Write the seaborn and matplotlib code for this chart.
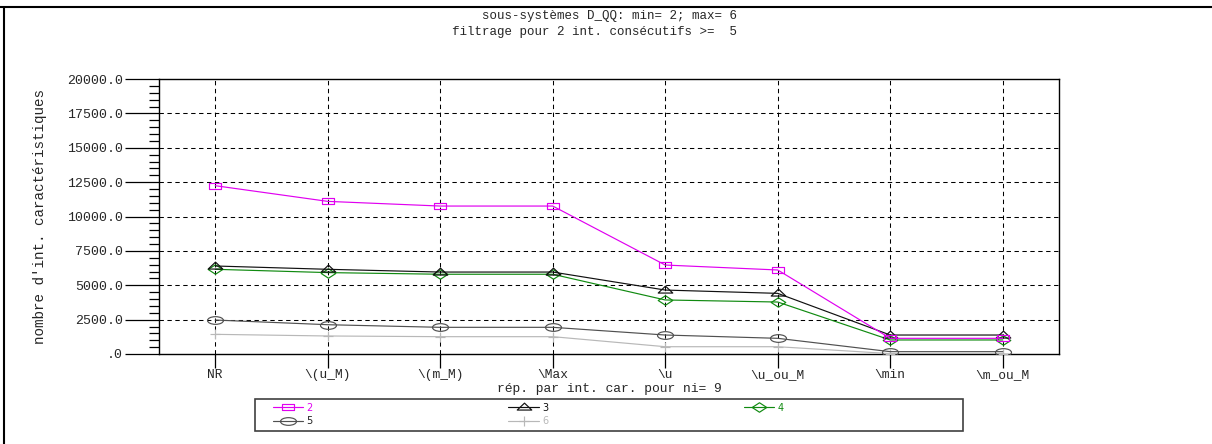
import numpy as np
import pandas as pd
import matplotlib
matplotlib.use("Agg")
import matplotlib.pyplot as plt
from matplotlib.path import Path
from matplotlib.lines import Line2D
from matplotlib.patches import Rectangle
from matplotlib.ticker import FixedLocator, MultipleLocator
import seaborn as sns

# ---------------- data ----------------
categories = ["NR", "\\(u_M)", "\\(m_M)", "\\Max", "\\u", "\\u_ou_M", "\\min", "\\m_ou_M"]
series_names = ["2", "3", "4", "5", "6"]
s2 = [12240, 11100, 10760, 10760, 6470, 6110, 1140, 1140]
s3 = [6400, 6160, 5960, 5960, 4650, 4410, 1380, 1380]
s4 = [6160, 5920, 5800, 5800, 3930, 3780, 1020, 1020]
s5 = [2470, 2130, 1940, 1940, 1380, 1140, 170, 170]
s6 = [1430, 1310, 1260, 1260, 530, 530, 30, 30]
y_tick_values = [0, 2500, 5000, 7500, 10000, 12500, 15000, 17500, 20000]
y_tick_labels = [".0", "2500.0", "5000.0", "7500.0", "10000.0", "12500.0",
                 "15000.0", "17500.0", "20000.0"]
title_line1 = "sous-systèmes D_QQ: min= 2; max= 6"
title_line2 = "filtrage pour 2 int. consécutifs >=  5"
x_label = "rép. par int. car. pour ni= 9"
y_label = "nombre d'int. caractéristiques"

# ---------------- style ----------------
sns.set_style("white")
plt.rcParams["font.family"] = ["Liberation Mono", "DejaVu Sans Mono"]

W, H = 1212, 444
fig = plt.figure(figsize=(W / 100, H / 100), dpi=100)
fig.patch.set_facecolor("white")
L, R, T, B = 159, 1059, 79, 354
ax = fig.add_axes([L / W, 1 - B / H, (R - L) / W, (B - T) / H])

# custom marker shapes
rect_m = Path([(-1, -0.5), (1, -0.5), (1, 0.5), (-1, 0.5), (-1, -0.5)],
              [Path.MOVETO, Path.LINETO, Path.LINETO, Path.LINETO, Path.CLOSEPOLY])
tri_m = Path([(-1, -0.35), (1, -0.35), (0, 0.6), (-1, -0.35)],
             [Path.MOVETO, Path.LINETO, Path.LINETO, Path.CLOSEPOLY])
dia_m = Path([(-1, 0), (0, 0.65), (1, 0), (0, -0.65), (-1, 0)],
             [Path.MOVETO, Path.LINETO, Path.LINETO, Path.LINETO, Path.CLOSEPOLY])
circ = Path.unit_circle()
ell_m = Path(circ.vertices * np.array([1.0, 0.48]), circ.codes)

series = [
    ("2", s2, "#e000f0", rect_m, 8.6),
    ("3", s3, "#101010", tri_m, 10.5),
    ("4", s4, "#108a10", dia_m, 10.5),
    ("5", s5, "#505050", ell_m, 11.5),
    ("6", s6, "#b8b8b8", "+", 7.0),
]

for name, vals, col, mk, ms in reversed(series):
    df = pd.DataFrame({"cat": categories, "val": vals})
    sns.lineplot(data=df, x="cat", y="val", ax=ax, sort=False, color=col,
                 lw=0.85, marker=mk, ms=ms, mfc="none", mec=col, mew=0.85,
                 label=name, legend=False, zorder=3)

ax.set_xlim(-0.5, len(categories) - 0.5)
ax.set_ylim(0, 20000)

# grid
for y in y_tick_values[1:-1]:
    ax.axhline(y, color="black", lw=0.75, ls=(0, (4.2, 3.4)), zorder=1)
for i in range(len(categories)):
    ax.axvline(i, color="black", lw=0.75, ls=(0, (4.2, 3.4)), zorder=1)

# ticks
ax.yaxis.set_major_locator(FixedLocator(y_tick_values))
ax.set_yticklabels(y_tick_labels)
ax.yaxis.set_minor_locator(MultipleLocator(500))
ax.tick_params(axis="y", which="major", direction="out", length=24.5, width=0.9,
               color="black", pad=1.5, labelsize=9.5, left=True)
ax.tick_params(axis="y", which="minor", direction="out", length=7.2, width=0.9,
               color="black", left=True)
ax.set_xticks(range(len(categories)))
ax.set_xticklabels(categories)
ax.tick_params(axis="x", which="major", direction="out", length=10, width=0.9,
               color="black", pad=0.5, labelsize=9.3, bottom=True)
ax.tick_params(axis="x", which="minor", bottom=False)

for sp in ax.spines.values():
    sp.set_color("black")
    sp.set_linewidth(1.0)
    sp.set_visible(True)

ax.set_xlabel(x_label, fontsize=9.4, labelpad=1.5)
ax.set_ylabel(y_label, fontsize=10.3)
ax.yaxis.set_label_coords(-0.124, 0.5)

# titles
fig.text(609 / W, 1 - 16 / H, title_line1, ha="center", va="center", fontsize=9)
fig.text(595 / W, 1 - 32 / H, title_line2, ha="center", va="center", fontsize=9)

# figure border (top & left)
fig.add_artist(Line2D([0, 1], [1 - 7 / H] * 2, transform=fig.transFigure,
                      color="black", lw=1.5))
fig.add_artist(Line2D([4 / W, 4 / W], [0, 1 - 7 / H], transform=fig.transFigure,
                      color="black", lw=1.5))

# legend
handles, labels = ax.get_legend_handles_labels()
hmap = dict(zip(labels, handles))
order = ["2", "5", "3", "6", "4"]
leg = fig.legend([hmap[k] for k in order], order, ncol=3, frameon=False,
                 loc="upper left", bbox_to_anchor=(265 / W, 1 - 395 / H),
                 prop={"family": "DejaVu Sans", "size": 7},
                 handlelength=3.1, handletextpad=0.35, columnspacing=20.15,
                 labelspacing=0.35, borderpad=0.3)
colors = {"2": "#e000f0", "3": "#101010", "4": "#108a10", "5": "#202020", "6": "#b8b8b8"}
for t in leg.get_texts():
    t.set_color(colors[t.get_text()])
fig.patches.append(Rectangle((255 / W, 1 - 431 / H), (963 - 255) / W, 32 / H,
                             transform=fig.transFigure, fill=False,
                             edgecolor="#404040", lw=1.2))

fig.savefig("out.png", dpi=100, facecolor="white")
